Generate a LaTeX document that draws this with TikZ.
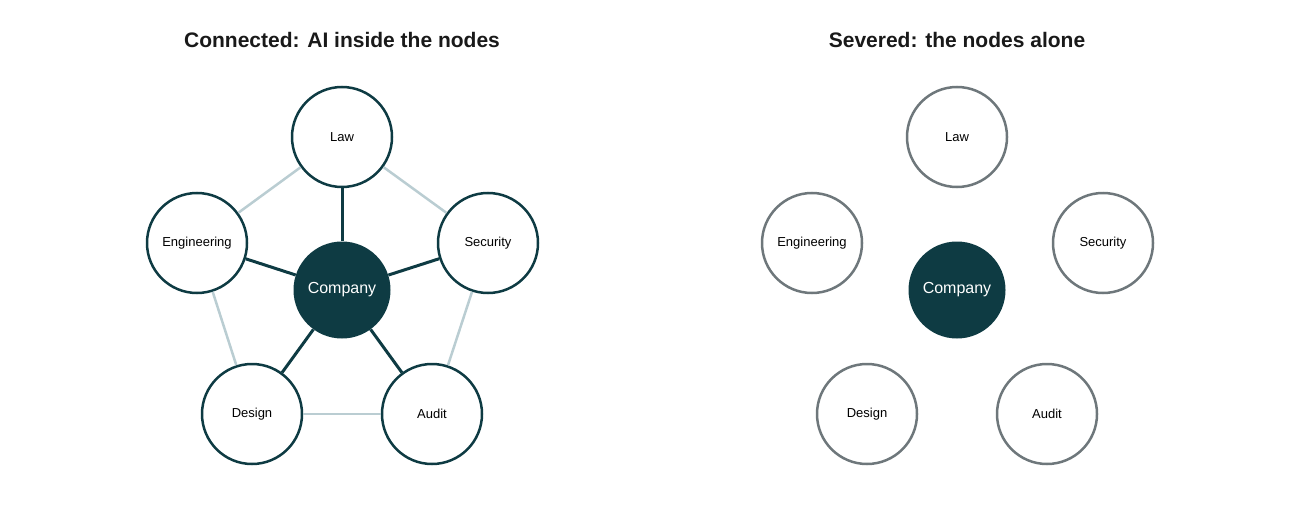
\documentclass[tikz,border=0pt]{standalone}
\usepackage{fontspec}
\setmainfont{Liberation Sans}
\begin{document}
\begin{tikzpicture}[x=1pt,y=-1pt,
  dark/.style={draw=teal0,line width=2.5pt,fill=white,circle,minimum size=100pt,inner sep=0pt,font=\fontsize{13}{15}\selectfont},
  gray/.style={draw=gray0,line width=2.5pt,fill=white,circle,minimum size=100pt,inner sep=0pt,font=\fontsize{13}{15}\selectfont},
  core/.style={fill=teal0,circle,minimum size=97pt,inner sep=0pt,text=white,font=\fontsize{16}{18}\selectfont},
  spoke/.style={draw=teal0,line width=3pt},
  rim/.style={draw=light0,line width=2.5pt},
  title/.style={font=\bfseries\fontsize{21}{24}\selectfont,text=black!90}]
\definecolor{teal0}{HTML}{0E3B43}
\definecolor{gray0}{HTML}{6E777B}
\definecolor{light0}{HTML}{BACDD2}
\useasboundingbox (0,0) rectangle (1300,508);
\node[title] (t1) at (342,40) {Connected: AI inside the nodes};
\node[title] (t2) at (957,40) {Severed: the nodes alone};
% left
\node[core] (c) at (342,290) {Company};
\node[dark] (law) at (342,137) {Law};
\node[dark] (eng) at (197,243) {Engineering};
\node[dark] (sec) at (488,243) {Security};
\node[dark] (des) at (252,414) {Design};
\node[dark] (aud) at (432,414) {Audit};
\begin{scope}[on background layer/.style={}]
\end{scope}
\draw[rim] (law) -- (eng); \draw[rim] (law) -- (sec);
\draw[rim] (eng) -- (des); \draw[rim] (sec) -- (aud);
\draw[rim] (des) -- (aud);
\foreach \n in {law,eng,sec,des,aud} \draw[spoke] (c) -- (\n);
% right
\node[core] (c2) at (957,290) {Company};
\node[gray] (law2) at (957,137) {Law};
\node[gray] (eng2) at (812,243) {Engineering};
\node[gray] (sec2) at (1103,243) {Security};
\node[gray] (des2) at (867,414) {Design};
\node[gray] (aud2) at (1047,414) {Audit};
\end{tikzpicture}
\end{document}
